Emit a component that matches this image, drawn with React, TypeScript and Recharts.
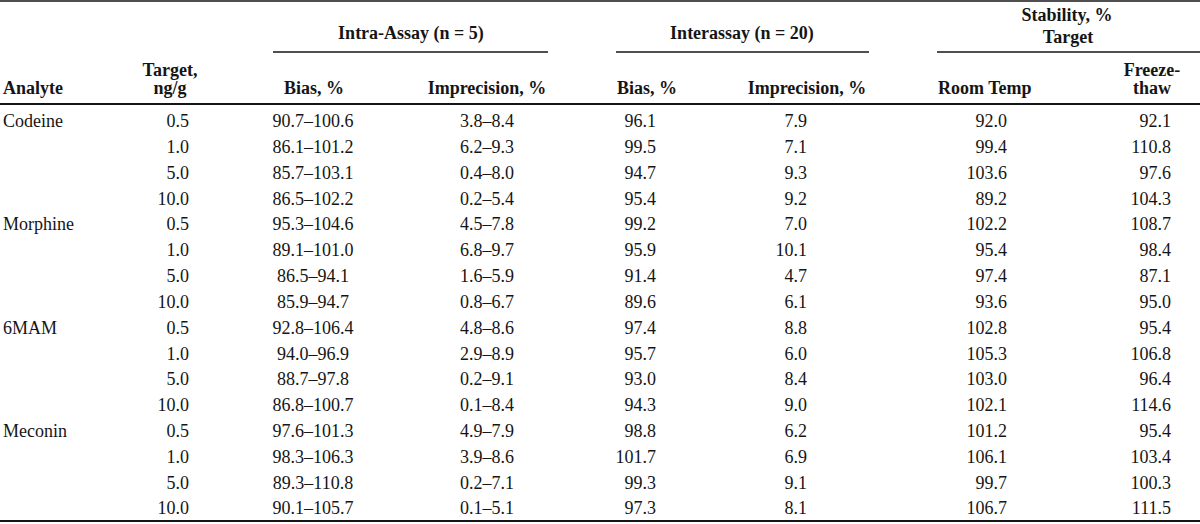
import { ScatterChart, Scatter, XAxis, YAxis, ReferenceLine } from 'recharts';

// table content
const analytes = ['Codeine', 'Morphine', '6MAM', 'Meconin'];
const targets = ['0.5', '1.0', '5.0', '10.0'];

const intraBias = [
  '90.7–100.6', '86.1–101.2', '85.7–103.1', '86.5–102.2',
  '95.3–104.6', '89.1–101.0', '86.5–94.1', '85.9–94.7',
  '92.8–106.4', '94.0–96.9', '88.7–97.8', '86.8–100.7',
  '97.6–101.3', '98.3–106.3', '89.3–110.8', '90.1–105.7',
];
const intraImprecision = [
  '3.8–8.4', '6.2–9.3', '0.4–8.0', '0.2–5.4',
  '4.5–7.8', '6.8–9.7', '1.6–5.9', '0.8–6.7',
  '4.8–8.6', '2.9–8.9', '0.2–9.1', '0.1–8.4',
  '4.9–7.9', '3.9–8.6', '0.2–7.1', '0.1–5.1',
];
const interBias = [
  '96.1', '99.5', '94.7', '95.4',
  '99.2', '95.9', '91.4', '89.6',
  '97.4', '95.7', '93.0', '94.3',
  '98.8', '101.7', '99.3', '97.3',
];
const interImprecision = [
  '7.9', '7.1', '9.3', '9.2',
  '7.0', '10.1', '4.7', '6.1',
  '8.8', '6.0', '8.4', '9.0',
  '6.2', '6.9', '9.1', '8.1',
];
const roomTemp = [
  '92.0', '99.4', '103.6', '89.2',
  '102.2', '95.4', '97.4', '93.6',
  '102.8', '105.3', '103.0', '102.1',
  '101.2', '106.1', '99.7', '106.7',
];
const freezeThaw = [
  '92.1', '110.8', '97.6', '104.3',
  '108.7', '98.4', '87.1', '95.0',
  '95.4', '106.8', '96.4', '114.6',
  '95.4', '103.4', '100.3', '111.5',
];

const groupTitles = ['Intra-Assay (n = 5)', 'Interassay (n = 20)', 'Stability, %', 'Target'];
const columnTitles = ['Analyte', 'Target,', 'ng/g', 'Bias, %', 'Imprecision, %', 'Bias, %', 'Imprecision, %', 'Room Temp', 'Freeze-', 'thaw'];

const W = 1200;
const H = 524;
const FONT = '"Liberation Serif", "Times New Roman", serif';
const INK = '#151515';

const rowKeys = analytes.flatMap((a) => targets.map((t) => `${a} ${t}`));

// where each body column sits and how it is anchored
// (target column goes first so the row axis picks up every row in order)
const bodyColumns = [
  { values: rowKeys.map((_, i) => targets[i % 4]), x: 189, anchor: 'end' },
  { values: rowKeys.map((_, i) => (i % 4 === 0 ? analytes[i / 4] : '')), x: 3, anchor: 'start' },
  { values: intraBias, x: 313, anchor: 'middle' },
  { values: intraImprecision, x: 487, anchor: 'middle' },
  { values: interBias, x: 656, anchor: 'end' },
  { values: interImprecision, x: 807, anchor: 'end' },
  { values: roomTemp, x: 1007, anchor: 'end' },
  { values: freezeThaw, x: 1171, anchor: 'end' },
];

// header text placement (px)
const headerLayout = [
  { text: groupTitles[0], x: 411, y: 33, anchor: 'middle' },
  { text: groupTitles[1], x: 742, y: 33, anchor: 'middle' },
  { text: groupTitles[2], x: 1067, y: 15, anchor: 'middle' },
  { text: groupTitles[3], x: 1068, y: 37, anchor: 'middle' },
  { text: columnTitles[0], x: 3, y: 88, anchor: 'start' },
  { text: columnTitles[1], x: 170, y: 70, anchor: 'middle' },
  { text: columnTitles[2], x: 170, y: 88, anchor: 'middle' },
  { text: columnTitles[3], x: 314, y: 88, anchor: 'middle' },
  { text: columnTitles[4], x: 487, y: 88, anchor: 'middle' },
  { text: columnTitles[5], x: 647, y: 88, anchor: 'middle' },
  { text: columnTitles[6], x: 807, y: 88, anchor: 'middle' },
  { text: columnTitles[7], x: 938, y: 88, anchor: 'start' },
  { text: columnTitles[8], x: 1152, y: 70, anchor: 'middle' },
  { text: columnTitles[9], x: 1152, y: 88, anchor: 'middle' },
];

const rules = [
  { x1: 0, x2: W, y: 1, w: 1.5 },
  { x1: 273, x2: 548, y: 52, w: 1.5 },
  { x1: 616, x2: 869, y: 52, w: 1.5 },
  { x1: 937, x2: W, y: 52, w: 1.5 },
  { x1: 0, x2: W, y: 104, w: 2 },
  { x1: 0, x2: W, y: 521, w: 2 },
];

const cellText = (anchor: string, bold: boolean) => (props: any) => {
  const { cx, cy, payload } = props;
  return (
    <text
      x={cx}
      y={cy}
      dy="0.35em"
      textAnchor={anchor}
      fontFamily={FONT}
      fontSize={18}
      fontWeight={bold ? 700 : 400}
      fill={INK}
    >
      {payload.label}
    </text>
  );
};

export default function App() {
  return (
    <div style={{ position: 'absolute', left: 0, top: 0, background: '#fff' }}>
      <ScatterChart width={W} height={H} margin={{ top: 0, right: 0, bottom: 0, left: 0 }}>
        <XAxis type="number" dataKey="x" domain={[0, W]} allowDataOverflow hide />
        <YAxis
          yAxisId="row"
          type="category"
          dataKey="row"
          allowDuplicatedCategory={false}
          reversed
          padding={{ top: 108, bottom: 3 }}
          hide
        />
        <YAxis yAxisId="px" type="number" dataKey="y" domain={[0, H]} reversed allowDataOverflow hide />

        {rules.map((r, i) => (
          <ReferenceLine
            key={`rule-${i}`}
            yAxisId="px"
            segment={[{ x: r.x1, y: r.y }, { x: r.x2, y: r.y }]}
            stroke={INK}
            strokeWidth={r.w}
            ifOverflow="visible"
          />
        ))}

        <Scatter
          yAxisId="px"
          data={headerLayout.map((h) => ({ x: h.x, y: h.y, label: h.text }))}
          shape={(p: any) => cellText(headerLayout.find((h) => h.x === p.payload.x && h.y === p.payload.y)?.anchor ?? 'middle', true)(p)}
          isAnimationActive={false}
        />

        {bodyColumns.map((col, c) => (
          <Scatter
            key={`col-${c}`}
            yAxisId="row"
            data={rowKeys
              .map((row, i) => ({ x: col.x, row, label: col.values[i] }))
              .filter((d) => d.label !== '')}
            shape={cellText(col.anchor, false)}
            isAnimationActive={false}
          />
        ))}
      </ScatterChart>
    </div>
  );
}
